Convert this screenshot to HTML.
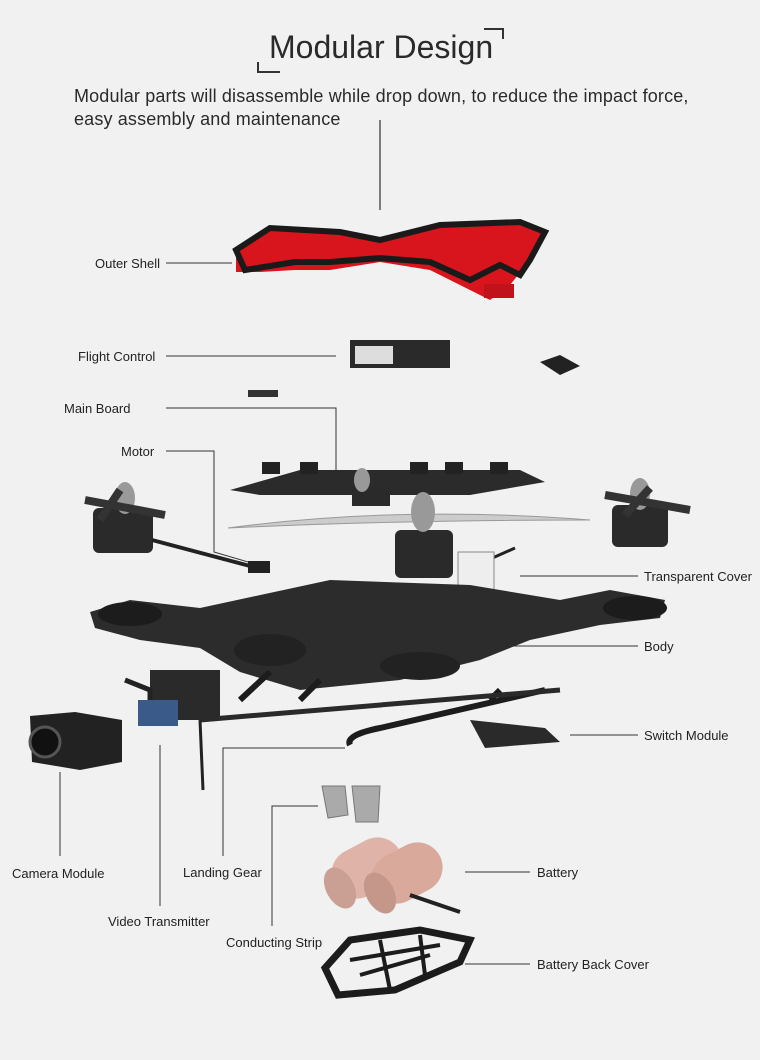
<!DOCTYPE html>
<html><head><meta charset="utf-8"><style>
html,body{margin:0;padding:0}
body{width:760px;height:1060px;background:#f1f1f1;position:relative;overflow:hidden;font-family:"Liberation Sans",sans-serif;color:#222}
.t{position:absolute;font-size:13px;white-space:nowrap;color:#222}
svg{position:absolute;left:0;top:0}
</style></head><body>
<svg width="760" height="1060" viewBox="0 0 760 1060">
<path d="M484 29 H503 V39" stroke="#333" stroke-width="2" fill="none"/>
<path d="M258 62 V72 H280" stroke="#333" stroke-width="2" fill="none"/>
<line x1="380" y1="120" x2="380" y2="210" stroke="#555" stroke-width="1.5"/>
<g stroke="#333" stroke-width="1" fill="none">
<line x1="166" y1="263" x2="232" y2="263"/>
<line x1="166" y1="356" x2="336" y2="356"/>
<polyline points="166,408 336,408 336,470"/>
<polyline points="166,451 214,451 214,552 262,566"/>
<line x1="520" y1="576" x2="638" y2="576"/>
<line x1="508" y1="646" x2="638" y2="646"/>
<line x1="570" y1="735" x2="638" y2="735"/>
<line x1="60" y1="772" x2="60" y2="856"/>
<line x1="160" y1="745" x2="160" y2="906"/>
<polyline points="223,856 223,748 345,748"/>
<polyline points="272,926 272,806 318,806"/>
<line x1="465" y1="872" x2="530" y2="872"/>
<line x1="465" y1="964" x2="530" y2="964"/>
</g>
<path d="M236 250 L270 228 L340 232 L380 240 L440 225 L520 222 L545 232 L530 260 L510 285 L490 300 L470 290 L430 270 L380 262 L330 270 L295 270 L260 272 L236 272 Z" fill="#d8141c"/>
<path d="M236 250 L270 228 L340 232 L380 240 L440 225 L520 222 L545 232 L530 260 L520 275 L500 265 L470 280 L430 262 L380 258 L330 262 L295 262 L245 270 Z" fill="none" stroke="#1a1a1a" stroke-width="6"/>
<rect x="484" y="284" width="30" height="14" fill="#c0121a"/>
<rect x="350" y="340" width="100" height="28" fill="#2a2a2a"/>
<rect x="355" y="346" width="38" height="18" fill="#ddd"/>
<path d="M540 362 L560 355 L580 366 L560 375 Z" fill="#222"/>
<rect x="248" y="390" width="30" height="7" fill="#333"/>
<path d="M230 490 L300 470 L520 470 L545 482 L470 495 L260 495 Z" fill="#2b2b2b"/>
<g fill="#222"><rect x="262" y="462" width="18" height="12"/><rect x="300" y="462" width="18" height="12"/><rect x="410" y="462" width="18" height="12"/><rect x="445" y="462" width="18" height="12"/><rect x="490" y="462" width="18" height="12"/></g>
<path d="M228 528 Q400 505 590 520 Q400 520 228 528 Z" fill="#ccc" stroke="#999"/>
<g fill="#2a2a2a">
<rect x="93" y="508" width="60" height="45" rx="6"/>
<rect x="612" y="505" width="56" height="42" rx="6"/>
<rect x="395" y="530" width="58" height="48" rx="6"/>
<rect x="352" y="486" width="38" height="20"/>
</g>
<g fill="#999"><ellipse cx="125" cy="498" rx="10" ry="16"/><ellipse cx="640" cy="494" rx="10" ry="16"/><ellipse cx="423" cy="512" rx="12" ry="20"/><ellipse cx="362" cy="480" rx="8" ry="12"/></g>
<path d="M85 500 L165 515 M100 520 L120 490 M605 495 L690 510 M625 515 L650 488" stroke="#333" stroke-width="8" fill="none"/>
<path d="M152 540 L250 566" stroke="#222" stroke-width="4"/>
<rect x="248" y="561" width="22" height="12" fill="#222"/>
<path d="M470 568 L515 548" stroke="#222" stroke-width="3"/>
<rect x="458" y="552" width="36" height="42" fill="#eee" stroke="#888"/>
<path d="M90 612 L130 600 L200 608 L330 580 L470 585 L560 600 L610 590 L665 600 L660 618 L600 625 L530 640 L480 660 L400 680 L300 690 L240 672 L200 648 L140 640 L95 628 Z" fill="#2c2c2c"/>
<ellipse cx="130" cy="614" rx="32" ry="12" fill="#1c1c1c"/>
<ellipse cx="635" cy="608" rx="32" ry="12" fill="#1c1c1c"/>
<ellipse cx="270" cy="650" rx="36" ry="16" fill="#222"/>
<ellipse cx="420" cy="666" rx="40" ry="14" fill="#222"/>
<path d="M240 700 L270 672 M300 700 L320 680 M350 745 Q345 735 380 728 L545 690 M490 700 L500 690" stroke="#1c1c1c" stroke-width="6" fill="none"/>
<path d="M200 720 L560 690" stroke="#2a2a2a" stroke-width="5"/>
<rect x="150" y="670" width="70" height="50" fill="#2a2a2a"/>
<rect x="138" y="700" width="40" height="26" fill="#3a5a8a"/>
<path d="M125 680 L150 690 L150 700" stroke="#222" stroke-width="5" fill="none"/>
<line x1="200" y1="720" x2="203" y2="790" stroke="#222" stroke-width="3"/>
<path d="M30 716 L75 712 L122 720 L122 762 L80 770 L32 762 Z" fill="#222"/>
<circle cx="45" cy="742" r="15" fill="#111" stroke="#555" stroke-width="3"/>
<path d="M470 720 L545 728 L560 742 L485 748 Z" fill="#2a2a2a"/>
<path d="M322 786 L345 786 L348 815 L328 818 Z M352 786 L380 786 L378 822 L356 822 Z" fill="#aaa" stroke="#777"/>
<g>
<rect x="330" y="843" width="74" height="50" rx="25" fill="#e0b3a8" transform="rotate(-28 367 868)"/>
<rect x="370" y="848" width="74" height="50" rx="25" fill="#d9a99c" transform="rotate(-28 407 873)"/>
<ellipse cx="340" cy="888" rx="14" ry="22" fill="#caa094" transform="rotate(-28 340 888)"/>
<ellipse cx="380" cy="893" rx="14" ry="22" fill="#c4978a" transform="rotate(-28 380 893)"/>
</g>
<line x1="410" y1="895" x2="460" y2="912" stroke="#222" stroke-width="4"/>
<path d="M338 995 L325 968 L350 940 L420 930 L470 940 L460 962 L395 990 Z" fill="none" stroke="#1c1c1c" stroke-width="7"/>
<path d="M350 960 L440 945 M360 975 L430 955 M380 940 L390 990 M420 935 L425 975" stroke="#1c1c1c" stroke-width="4"/>
</svg>
<div class="t" style="left:269px;top:29px;font-size:32px;color:#2a2a2a">Modular Design</div>
<div class="t" style="left:74px;top:86px;font-size:18px;letter-spacing:0.15px;color:#2a2a2a">Modular parts will disassemble while drop down, to reduce the impact force,</div>
<div class="t" style="left:74px;top:109px;font-size:18px;letter-spacing:0.15px;color:#2a2a2a">easy assembly and maintenance</div>
<div class="t" style="left:95px;top:256px">Outer Shell</div>
<div class="t" style="left:78px;top:349px">Flight Control</div>
<div class="t" style="left:64px;top:401px">Main Board</div>
<div class="t" style="left:121px;top:444px">Motor</div>
<div class="t" style="left:644px;top:569px">Transparent Cover</div>
<div class="t" style="left:644px;top:639px">Body</div>
<div class="t" style="left:644px;top:728px">Switch Module</div>
<div class="t" style="left:12px;top:866px">Camera Module</div>
<div class="t" style="left:183px;top:865px">Landing Gear</div>
<div class="t" style="left:108px;top:914px">Video Transmitter</div>
<div class="t" style="left:226px;top:935px">Conducting Strip</div>
<div class="t" style="left:537px;top:865px">Battery</div>
<div class="t" style="left:537px;top:957px">Battery Back Cover</div>
</body></html>
